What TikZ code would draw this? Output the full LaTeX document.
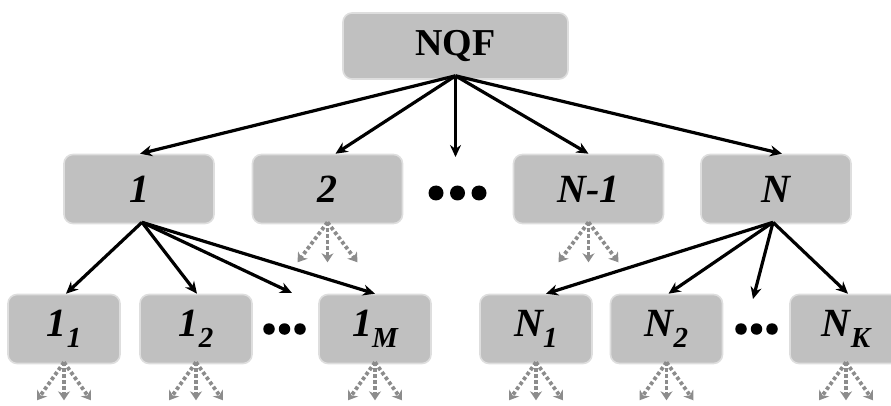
\documentclass[tikz,border=0pt]{standalone}
\usepackage{fontspec}
\setmainfont{Liberation Serif}
\usetikzlibrary{arrows.meta}
\newcommand\lsub[1]{\raisebox{-0.28em}{\fontsize{29}{29}\selectfont #1}}
\definecolor{boxfill}{RGB}{192,192,192}
\definecolor{boxedge}{RGB}{222,222,222}
\definecolor{dotgray}{RGB}{140,140,140}
\begin{document}
\begin{tikzpicture}[x=1pt,y=-1pt,
  box/.style={rectangle,rounded corners=9pt,fill=boxfill,draw=boxedge,line width=1.6pt,inner sep=0pt},
  topbox/.style={box,minimum width=225pt,minimum height=66pt,font=\fontsize{38}{38}\selectfont\bfseries},
  midbox/.style={box,minimum width=150pt,minimum height=69pt,font=\fontsize{40}{40}\selectfont\bfseries\itshape},
  lowbox/.style={box,minimum width=112pt,minimum height=69pt,font=\fontsize{40}{40}\selectfont\bfseries\itshape},
  arr/.style={line width=3.2pt,-{Stealth[length=12pt,width=11pt]}},
  darr/.style={line width=3.8pt,dotgray,dash pattern=on 3.5pt off 2.5pt,-{Stealth[length=9pt,width=12pt]}},
  blob/.style={circle,fill=black,inner sep=0pt}
]
\useasboundingbox (0,0) rectangle (891,406);
\begin{scope}
\clip (0,0) rectangle (891,406);
% top
\node[topbox] (nqf) at (455.5,46) {NQF};
% level 2
\node[midbox] (b1) at (139,189) {1};
\node[midbox] (b2) at (327.5,189) {2};
\node[midbox] (bn1) at (588.5,189) {N-1};
\node[midbox] (bn) at (776,189) {N};
\node[blob,minimum size=15pt] (d1a) at (436,193) {};
\node[blob,minimum size=15pt] (d1b) at (457.5,193) {};
\node[blob,minimum size=15pt] (d1c) at (479,193) {};
% level 3
\node[lowbox] (c11) at (64,329) {1\lsub{1}};
\node[lowbox] (c12) at (196,329) {1\lsub{2}};
\node[lowbox] (c1m) at (375,329) {1\lsub{M}};
\node[lowbox] (cn1) at (536,329) {N\lsub{1}};
\node[lowbox] (cn2) at (666.5,329) {N\lsub{2}};
\node[lowbox] (cnk) at (846,329) {N\lsub{K}};
\node[blob,minimum size=11.5pt] (d2a) at (269,329) {};
\node[blob,minimum size=11.5pt] (d2b) at (284.5,329) {};
\node[blob,minimum size=11.5pt] (d2c) at (300,329) {};
\node[blob,minimum size=11.5pt] (d3a) at (741,329) {};
\node[blob,minimum size=11.5pt] (d3b) at (756.5,329) {};
\node[blob,minimum size=11.5pt] (d3c) at (772,329) {};
% free ends
\coordinate (mid) at (455.5,157);
\coordinate (m1) at (292,293);
\coordinate (mn) at (753,299);
% arrows from NQF
\draw[arr] ([yshift=4pt]nqf.south) -- ([xshift=1pt]b1.north);
\draw[arr] ([yshift=4pt]nqf.south) -- ([xshift=8pt]b2.north);
\draw[arr] ([yshift=4pt]nqf.south) -- (mid);
\draw[arr] ([yshift=4pt]nqf.south) -- ([xshift=0pt]bn1.north);
\draw[arr] ([yshift=4pt]nqf.south) -- ([xshift=6pt]bn.north);
% arrows from 1
\draw[arr] ([xshift=3pt,yshift=2pt]b1.south) -- ([xshift=2pt]c11.north);
\draw[arr] ([xshift=3pt,yshift=2pt]b1.south) -- ([xshift=1pt]c12.north);
\draw[arr] ([xshift=3pt,yshift=2pt]b1.south) -- (m1);
\draw[arr] ([xshift=3pt,yshift=2pt]b1.south) -- ([xshift=0pt]c1m.north);
% arrows from N
\draw[arr] ([xshift=-3pt,yshift=2pt]bn.south) -- ([xshift=10pt]cn1.north);
\draw[arr] ([xshift=-3pt,yshift=2pt]bn.south) -- ([xshift=2pt]cn2.north);
\draw[arr] ([xshift=-3pt,yshift=2pt]bn.south) -- (mn);
\draw[arr] ([xshift=-3pt,yshift=2pt]bn.south) -- ([xshift=2pt]cnk.north);
% dotted gray arrows
\foreach \n/\s/\l in {b2/30/40,bn1/30/40,c11/27/38,c12/27/38,c1m/27/38,cn1/27/38,cn2/27/38,cnk/27/38}{
  \draw[darr] ([yshift=2pt]\n.south) -- ++(-\s,\l);
  \draw[darr] ([yshift=2pt]\n.south) -- ++(0,\l);
  \draw[darr] ([yshift=2pt]\n.south) -- ++(\s,\l);
}
\end{scope}
\end{tikzpicture}
\end{document}
